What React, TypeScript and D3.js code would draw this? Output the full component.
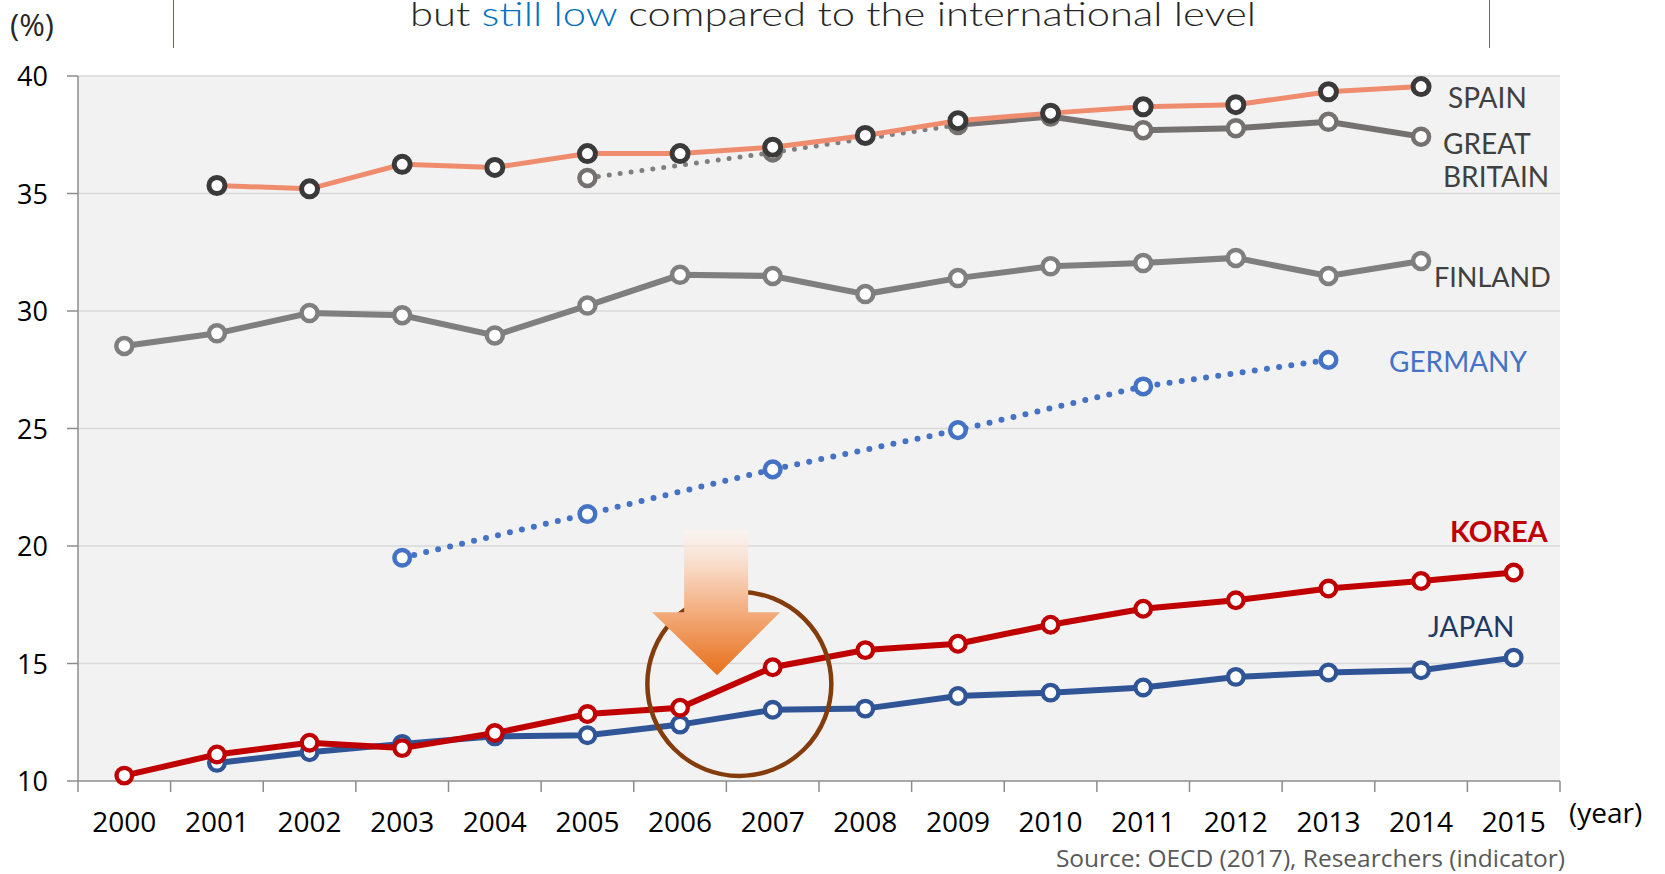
import React from "react"
import * as d3 from "d3"

// years on the x axis
const years = ["2000", "2001", "2002", "2003", "2004", "2005", "2006", "2007",
  "2008", "2009", "2010", "2011", "2012", "2013", "2014", "2015"]
const yTicks = [10, 15, 20, 25, 30, 35, 40]

// researchers share (%), null = no data
const korea = [10.23, 11.13, 11.63, 11.4, 12.04, 12.85, 13.12, 14.84, 15.57, 15.84, 16.65, 17.33, 17.69, 18.19, 18.51, 18.87]
const japan = [null, 10.77, 11.22, 11.58, 11.9, 11.95, 12.4, 13.03, 13.08, 13.62, 13.76, 13.98, 14.43, 14.62, 14.71, 15.25]
const germany = [null, null, null, 19.5, null, 21.36, null, 23.26, null, 24.93, null, 26.79, null, 27.92, null, null]
const finland = [28.51, 29.05, 29.91, 29.82, 28.96, 30.23, 31.54, 31.49, 30.72, 31.4, 31.9, 32.04, 32.26, 31.49, 32.13, null]
const spain = [null, 35.34, 35.2, 36.24, 36.11, 36.7, 36.7, 36.97, 37.47, 38.1, 38.42, 38.69, 38.78, 39.33, 39.55, null]
const greatBritain = [null, null, null, null, null, 35.66, null, 36.75, null, 37.92, 38.28, 37.69, 37.78, 38.05, 37.42, null]
const gbDottedUntil = "2009"

const W = 1665
const H = 874
const left = 78, right = 1560, top = 76, bottom = 781

type Pt = { year: string; v: number }
const pts = (arr: (number | null)[]): Pt[] =>
  arr.map((v, i) => ({ year: years[i], v })).filter(d => d.v !== null) as Pt[]

export default function App() {
  const x = d3.scaleBand().domain(years).range([left, right])
  const bw = x.bandwidth()
  const cx = (yr: string) => (x(yr) as number) + bw / 2
  const y = d3.scaleLinear().domain([10, 40]).range([bottom, top])
  const line = d3.line<Pt>().x(d => cx(d.year)).y(d => y(d.v))
  // fractional year position for annotations
  const xAt = (idx: number) => left + bw / 2 + idx * bw

  const gb = pts(greatBritain)
  const gbDotted = gb.filter(d => d.year <= gbDottedUntil)
  const gbSolid = gb.filter(d => d.year >= gbDottedUntil)

  const markers = (data: Pt[], stroke: string, r: number, sw: number) =>
    data.map(d => (
      <circle key={d.year} cx={cx(d.year)} cy={y(d.v)} r={r} fill="#fff" stroke={stroke} strokeWidth={sw} />
    ))

  const labelFont = "Lato, 'Noto Sans', sans-serif"
  const numFont = "'Open Sans', 'Noto Sans', sans-serif"

  // arrow annotation
  const tipX = xAt(6.4), tipY = y(14.5)
  const headTop = tipY - 63
  const arrowPath = `M${tipX - 33},${headTop - 82} L${tipX + 31},${headTop - 82} L${tipX + 31},${headTop}
    L${tipX + 63},${headTop} L${tipX},${tipY} L${tipX - 65},${headTop} L${tipX - 33},${headTop} Z`

  return (
    <div style={{ position: "absolute", left: 0, top: 0 }}>
      <svg width={W} height={H} style={{ display: "block", background: "#fff" }}>
        <defs>
          <linearGradient id="arrowGrad" x1="0" y1="0" x2="0" y2="1">
            <stop offset="0" stopColor="#fdf3ee" stopOpacity="0.6" />
            <stop offset="0.3" stopColor="#f8d3bb" />
            <stop offset="0.55" stopColor="#f3ae80" />
            <stop offset="1" stopColor="#e8701a" />
          </linearGradient>
        </defs>

        {/* header */}
        <line x1={173.5} x2={173.5} y1={0} y2={48} stroke="#2e75b6" strokeWidth={1} />
        <line x1={1489.5} x2={1489.5} y1={0} y2={48} stroke="#2e75b6" strokeWidth={1} />
        <text x={833} y={26} textAnchor="middle" fontSize={34} fontWeight={300} fill="#262626"
          fontFamily="Lato, 'DejaVu Sans', sans-serif" textLength={846} lengthAdjust="spacingAndGlyphs">
          but <tspan fill="#0070c0">still low</tspan> compared to the international level
        </text>
        <text x={10} y={36} fontSize={31} fontFamily={numFont} fill="#262626">(%)</text>

        {/* plot area */}
        <rect x={left} y={top} width={right - left} height={bottom - top} fill="#f2f2f2" />
        {yTicks.filter(t => t > 10).map(t => (
          <line key={t} x1={left} x2={right} y1={y(t)} y2={y(t)} stroke="#d9d9d9" strokeWidth={1.5} />
        ))}
        {yTicks.map(t => (
          <g key={t}>
            <line x1={left - 11} x2={left} y1={y(t)} y2={y(t)} stroke="#8c8c8c" strokeWidth={1.5} />
            <text x={48} y={y(t) + 10} textAnchor="end" fontSize={27} fontFamily={numFont} fill="#000">{t}</text>
          </g>
        ))}
        <line x1={left} x2={left} y1={top} y2={bottom} stroke="#8c8c8c" strokeWidth={1.5} />
        <line x1={left} x2={right} y1={bottom} y2={bottom} stroke="#8c8c8c" strokeWidth={1.5} />
        {years.map(yr => (
          <line key={yr} x1={x(yr) as number} x2={x(yr) as number} y1={bottom} y2={bottom + 11} stroke="#8c8c8c" strokeWidth={1.5} />
        ))}
        <line x1={right} x2={right} y1={bottom} y2={bottom + 11} stroke="#8c8c8c" strokeWidth={1.5} />
        {years.map(yr => (
          <text key={yr} x={cx(yr)} y={832} textAnchor="middle" fontSize={28} fontFamily={numFont} fill="#000">{yr}</text>
        ))}
        <text x={1569} y={823} fontSize={28} fontFamily={numFont} fill="#000">(year)</text>
        <text x={1565} y={867} textAnchor="end" fontSize={24.5} fontFamily={numFont} fill="#595959">
          Source: OECD (2017), Researchers (indicator)
        </text>

        {/* Germany dotted */}
        <path d={line(pts(germany)) || ""} fill="none" stroke="#4472c4" strokeWidth={6}
          strokeDasharray="0 12.3" strokeLinecap="round" />
        {markers(pts(germany), "#4472c4", 7.8, 4.5)}

        {/* Finland */}
        <path d={line(pts(finland)) || ""} fill="none" stroke="#7f7f7f" strokeWidth={6} />
        {markers(pts(finland), "#7f7f7f", 8, 4.5)}

        {/* Great Britain */}
        <path d={line(gbDotted) || ""} fill="none" stroke="#7f7f7f" strokeWidth={5}
          strokeDasharray="0 11" strokeLinecap="round" />
        <path d={line(gbSolid) || ""} fill="none" stroke="#767171" strokeWidth={6} />
        {markers(gb, "#767171", 8, 4.5)}

        {/* Spain */}
        <path d={line(pts(spain)) || ""} fill="none" stroke="#ef8c6e" strokeWidth={5} />
        {markers(pts(spain), "#3a3a3a", 8, 5)}

        {/* Japan */}
        <path d={line(pts(japan)) || ""} fill="none" stroke="#2f5597" strokeWidth={6} />
        {markers(pts(japan), "#2f5597", 7.8, 4.3)}

        {/* Korea */}
        <path d={line(pts(korea)) || ""} fill="none" stroke="#c00000" strokeWidth={6} />
        {markers(pts(korea), "#c00000", 7.8, 4.3)}

        {/* annotation */}
        <circle cx={xAt(6.64)} cy={y(14.13)} r={92} fill="none" stroke="#843c0c" strokeWidth={4.5} />
        <path d={arrowPath} fill="url(#arrowGrad)" />

        {/* series labels */}
        <text x={1448} y={108} fontSize={28} fontFamily={labelFont} fill="#404040">SPAIN</text>
        <text x={1443} y={154} fontSize={28} fontFamily={labelFont} fill="#404040">GREAT</text>
        <text x={1443} y={187} fontSize={28} fontFamily={labelFont} fill="#404040">BRITAIN</text>
        <text x={1434} y={287} fontSize={27} fontFamily={labelFont} fill="#404040">FINLAND</text>
        <text x={1389} y={372} fontSize={28} fontFamily={labelFont} fill="#4472c4">GERMANY</text>
        <text x={1450} y={542} fontSize={29} fontWeight="bold" fontFamily={labelFont} fill="#c00000">KOREA</text>
        <text x={1428} y={637} fontSize={28} fontFamily={labelFont} fill="#203864">JAPAN</text>
      </svg>
    </div>
  )
}
